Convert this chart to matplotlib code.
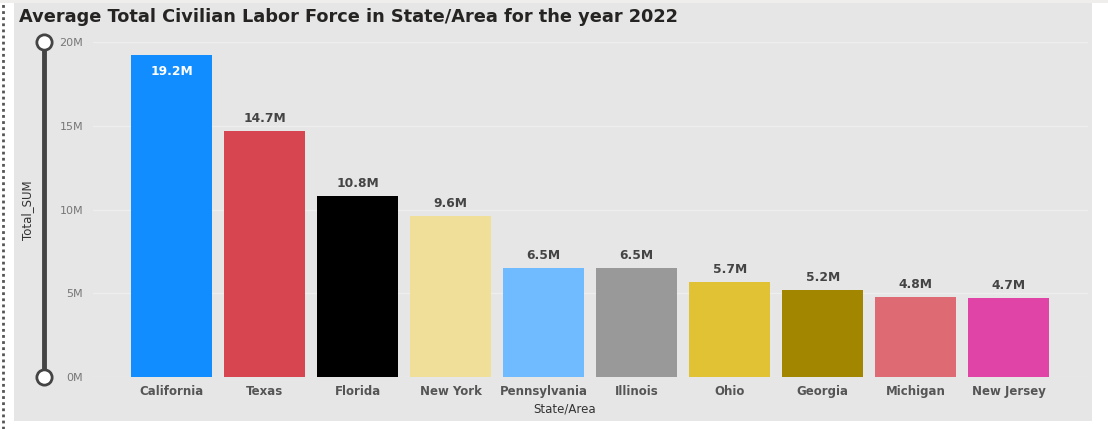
import matplotlib.pyplot as plt
from matplotlib.patches import Rectangle
from matplotlib.lines import Line2D
from matplotlib.ticker import FuncFormatter

# data
states = ["California", "Texas", "Florida", "New York", "Pennsylvania",
          "Illinois", "Ohio", "Georgia", "Michigan", "New Jersey"]
labor_force_m = [19.2, 14.7, 10.8, 9.6, 6.5, 6.5, 5.7, 5.2, 4.8, 4.7]
bar_colors = ["#118DFF", "#D64550", "#000000", "#F0DF98", "#70BAFF",
              "#999999", "#E0C234", "#A38600", "#DE6A73", "#E044A7"]
y_ticks = [0, 5, 10, 15, 20]

W, H = 1108, 429
fig = plt.figure(figsize=(W / 100, H / 100), dpi=100)
fig.patch.set_facecolor("white")


def fx(px):
    return px / W


def fy(py):
    return 1 - py / H


# gray panel + top strip + dotted left border
fig.patches.append(Rectangle((0, fy(3)), 1, 3 / H, transform=fig.transFigure,
                             facecolor="#EFEEEC", edgecolor="none", zorder=-5))
fig.patches.append(Rectangle((fx(14), fy(421)), fx(1092) - fx(14), (421 - 3) / H,
                             transform=fig.transFigure, facecolor="#E6E6E6",
                             edgecolor="none", zorder=-5))
fig.add_artist(Line2D([fx(3), fx(3)], [0, fy(3)], transform=fig.transFigure,
                      color="#555555", linestyle=(0, (1, 1.2)), linewidth=2))

# title
fig.text(fx(19), fy(17), "Average Total Civilian Labor Force in State/Area for the year 2022",
         fontsize=12.8, fontweight="bold", color="#252423", va="center", ha="left")

# plot area
ax = fig.add_axes([fx(93), fy(377), fx(1088) - fx(93), (377 - 42) / H])
ax.set_facecolor("none")
xs = list(range(len(states)))
ax.bar(xs, labor_force_m, width=0.87, color=bar_colors, zorder=2)
ax.set_ylim(0, 20)
ax.set_xlim(-0.843, 9.85)
ax.set_yticks(y_ticks)
ax.yaxis.set_major_formatter(FuncFormatter(lambda v, p: "%dM" % v))
ax.grid(axis="y", color="#EEEEEE", linewidth=1, zorder=1)
ax.set_axisbelow(True)
for s in ax.spines.values():
    s.set_visible(False)
ax.tick_params(axis="y", length=0, labelsize=8, labelcolor="#777777", pad=7)
ax.tick_params(axis="x", length=0, labelsize=8.5, labelcolor="#555555", pad=6)
ax.set_xticks(xs)
ax.set_xticklabels(states, fontweight="bold")

for i, v in enumerate(labor_force_m):
    if i == 0:
        ax.text(i, v - 0.55, "%.1fM" % v, ha="center", va="top", color="white",
                fontsize=8.8, fontweight="bold", zorder=3)
    else:
        ax.text(i, v + 0.35, "%.1fM" % v, ha="center", va="bottom", color="#444444",
                fontsize=8.8, fontweight="bold", zorder=3)

fig.text(fx(28), fy(210), "Total_SUM", rotation=90, fontsize=8.5, color="#333333",
         ha="center", va="center")
fig.text(fx(565), fy(409), "State/Area", fontsize=8.5, color="#333333",
         ha="center", va="center")

# slider on the left
fig.add_artist(Line2D([fx(44), fx(44)], [fy(42), fy(377)], transform=fig.transFigure,
                      color="#444444", linewidth=3.5))
fig.add_artist(Line2D([fx(44), fx(44)], [fy(42), fy(377)], transform=fig.transFigure,
                      linestyle="none", marker="o", markersize=11,
                      markerfacecolor="white", markeredgecolor="#444444",
                      markeredgewidth=2))

fig.savefig("out.png", dpi=100)
